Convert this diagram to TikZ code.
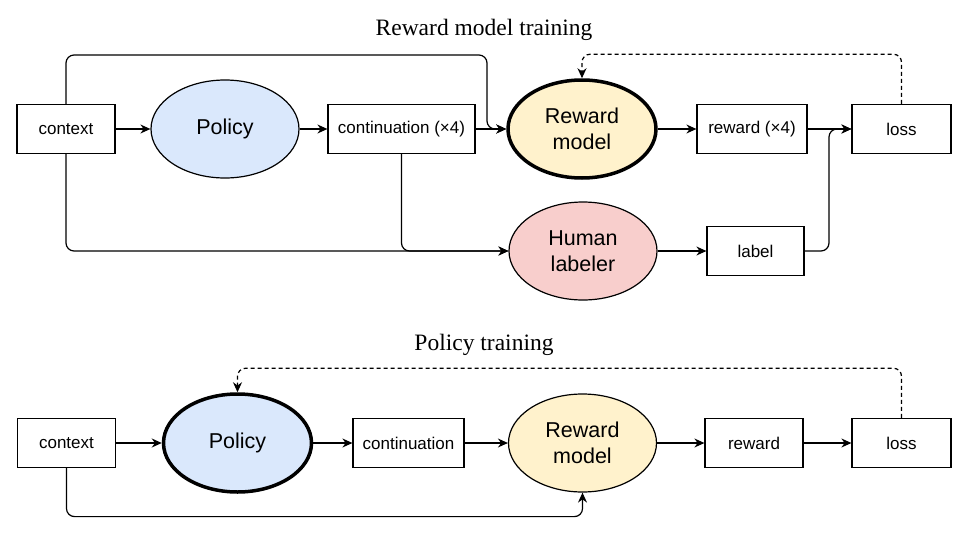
\documentclass[tikz,border=0pt]{standalone}
\usepackage{fontspec}
\setmainfont{Liberation Serif}
\newfontfamily\diagfont{Liberation Sans}
\usepackage{xcolor}
\usetikzlibrary{arrows.meta,shapes.geometric}
\definecolor{policyblue}{HTML}{DAE8FC}
\definecolor{rewardyellow}{HTML}{FFF2CC}
\definecolor{humanred}{HTML}{F8CECC}
\tikzset{
  box/.style={
    draw, line width=1.2pt, minimum width=#1, minimum height=49pt,
    inner sep=0pt, font=\diagfont\fontsize{17}{20}\selectfont
  },
  box/.default=98pt,
  blob/.style={
    ellipse, draw, line width=1.2pt, minimum width=148pt, minimum height=98pt,
    inner sep=0pt, align=center, font=\diagfont\fontsize{21.5}{26}\selectfont
  },
  bold blob/.style={
    blob, line width=3.5pt
  },
  heading/.style={
    font=\fontsize{23.5}{28}\selectfont
  },
  link/.style={
    line width=1.2pt, rounded corners=8pt, -{Stealth[length=10pt,width=9pt]}
  },
  feedback/.style={
    link, dash pattern=on 4pt off 3pt
  }
}

\begin{document}
\begin{tikzpicture}[x=1pt,y=-1pt]
    \useasboundingbox (0,0) rectangle (975,541);
    \begin{scope}
        \node[heading] (title1) at (484,30) {Reward model training};
        \node[box] (ctx1) at (66,129) {context};
        \node[blob, fill=policyblue] (pol1) at (225,129) {Policy};
        \node[box=147pt] (cont1) at (401.5,129) {continuation (×4)};
        \node[bold blob, fill=rewardyellow] (rm1) at (582,129) {Reward\\model};
        \node[box=110pt] (rw1) at (752,129) {reward (×4)};
        \node[box=99pt] (loss1) at (901.5,129) {loss};
        \node[blob, fill=humanred] (hl1) at (583,251) {Human\\labeler};
        \node[box=97pt] (lab1) at (755.5,251) {label};
        \coordinate (skip1) at (487,55);
        \coordinate (join1) at (829,129);
    \end{scope}
    \begin{scope}
        \draw[link] (ctx1) -- (pol1);
        \draw[link] (pol1) -- (cont1);
        \draw[link] (cont1) -- (rm1);
        \draw[link] (ctx1.north) |- (skip1) |- (rm1.west);
        \draw[link] (ctx1.south) |- (hl1.west);
        \draw[link] (cont1.south) |- (hl1.west);
        \draw[link] (rm1) -- (rw1);
        \draw[link] (rw1) -- (loss1);
        \draw[link] (hl1) -- (lab1);
        \draw[link] (lab1.east) -| (join1) -- (loss1.west);
        \draw[feedback] (loss1.north) |- ([yshift=24pt]rm1.north) -- (rm1.north);
    \end{scope}
    \begin{scope}
        \node[heading] (title2) at (484,345) {Policy training};
        \node[box] (ctx2) at (66.5,443) {context};
        \node[bold blob, fill=policyblue] (pol2) at (237.5,443) {Policy};
        \node[box=111pt] (cont2) at (408.5,443) {continuation};
        \node[blob, fill=rewardyellow] (rm2) at (582.5,443) {Reward\\model};
        \node[box] (rw2) at (754,443) {reward};
        \node[box=99pt] (loss2) at (901.5,443) {loss};
    \end{scope}
    \begin{scope}
        \draw[link] (ctx2) -- (pol2);
        \draw[link] (pol2) -- (cont2);
        \draw[link] (cont2) -- (rm2);
        \draw[link] (rm2) -- (rw2);
        \draw[link] (rw2) -- (loss2);
        \draw[feedback] (loss2.north) |- ([yshift=24pt]pol2.north) -- (pol2.north);
        \draw[link] (ctx2.south) |- ([yshift=-24pt]rm2.south) -- (rm2.south);
    \end{scope}
\end{tikzpicture}
\end{document}
